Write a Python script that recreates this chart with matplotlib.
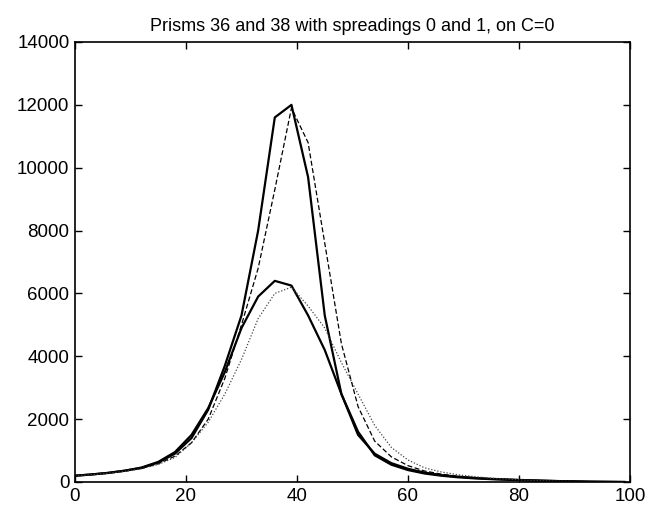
import matplotlib
matplotlib.use('Agg')
import matplotlib.pyplot as plt
import numpy as np

plt.rcParams['font.family'] = ['Liberation Sans', 'DejaVu Sans']

# sample positions (every 3 units)
x = np.arange(0, 100, 3)

# prism 36, spreading 0 (tall, solid)
tall_solid = [200, 240, 290, 360, 450, 620, 900, 1400, 2300, 3700, 5300, 8000,
              11600, 12000, 9700, 5300, 2800, 1500, 900, 600, 420, 300, 220,
              170, 130, 100, 80, 60, 45, 30, 20, 10, 5, 0]
# prism 38, spreading 0 (tall, dashed)
tall_dashed = [200, 240, 290, 350, 430, 580, 820, 1250, 2000, 3300, 5000, 6800,
               9300, 11900, 10800, 7600, 4400, 2400, 1300, 800, 520, 350, 250,
               180, 135, 100, 80, 60, 45, 30, 20, 10, 5, 0]
# prism 36, spreading 1 (short, solid)
short_solid = [200, 240, 290, 360, 460, 640, 950, 1500, 2350, 3500, 4900, 5900,
               6400, 6250, 5300, 4200, 2800, 1600, 850, 550, 380, 270, 200,
               150, 115, 90, 70, 55, 40, 28, 18, 10, 5, 0]
# prism 38, spreading 1 (short, dotted)
short_dotted = [200, 230, 280, 340, 420, 560, 780, 1250, 1900, 2800, 3900, 5200,
                6000, 6200, 5600, 4900, 3800, 2800, 1800, 1100, 700, 450, 320,
                230, 170, 120, 90, 60, 40, 25, 15, 8, 4, 0]

fig = plt.figure(figsize=(6.48, 5.12), dpi=100)
ax = fig.add_axes([75 / 648, 1 - 482 / 512, 555 / 648, 440 / 512])

ax.plot(x, tall_solid, color='black', lw=1.6, linestyle='-')
ax.plot(x, tall_dashed, color='black', lw=0.9, linestyle=(0, (4, 2)))
ax.plot(x, short_solid, color='black', lw=1.6, linestyle='-')
ax.plot(x, short_dotted, color='#444444', lw=0.9, linestyle=(0, (1, 1.5)))

ax.set_xlim(0, 100)
ax.set_ylim(0, 14000)
ax.set_xticks(np.arange(0, 101, 20))
ax.set_yticks(np.arange(0, 14001, 2000))
ax.tick_params(direction='in', top=True, right=True, length=5, width=1,
               labelsize=13.5, pad=4)
for s in ax.spines.values():
    s.set_linewidth(1.2)

ax.set_title('Prisms 36 and 38 with spreadings 0 and 1, on C=0', fontsize=13, pad=8)

fig.savefig('out.png', dpi=100)
